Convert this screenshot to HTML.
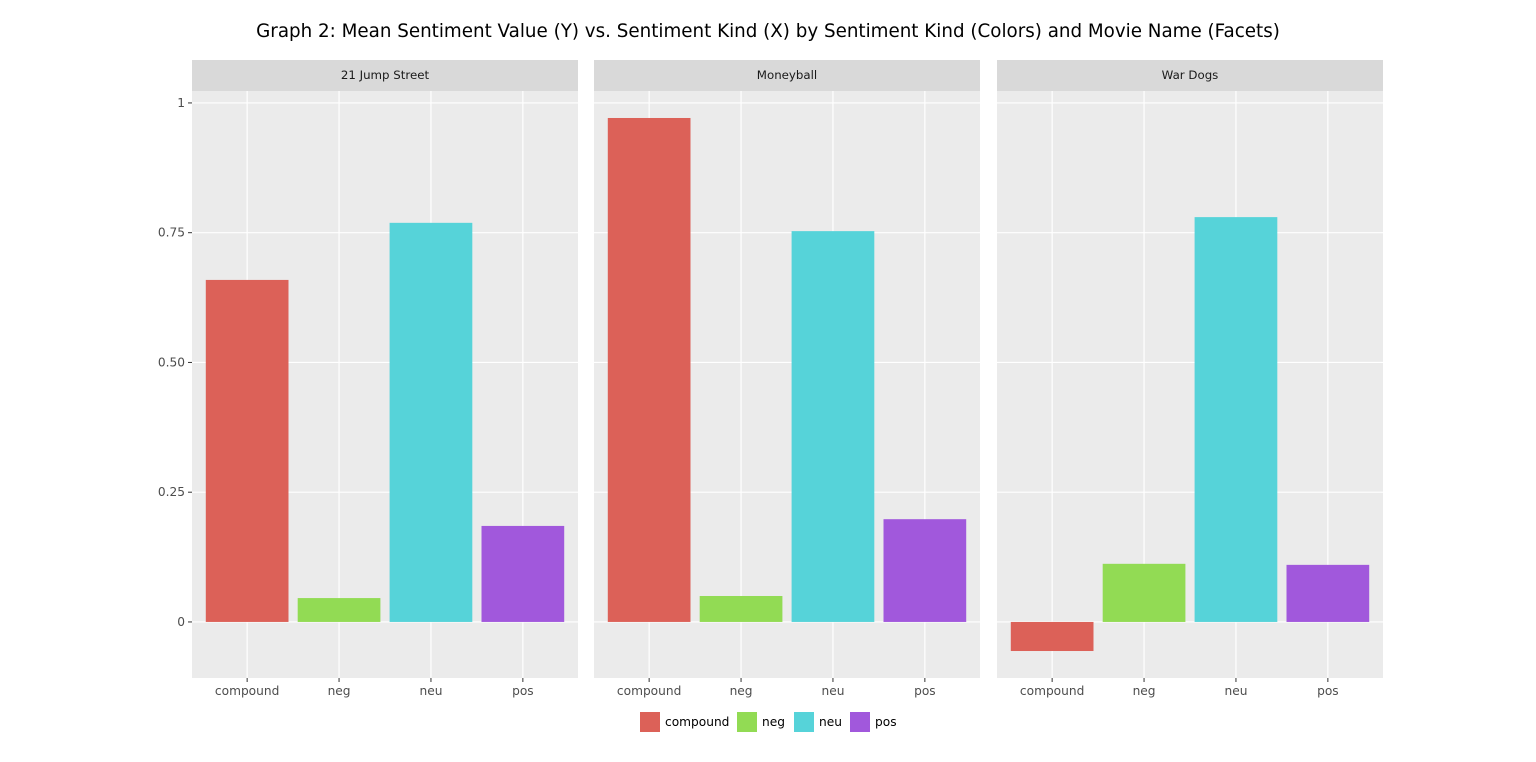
<!DOCTYPE html>
<html><head><meta charset="utf-8"><style>
body{margin:0;background:#fff;}
svg{display:block;font-family:"DejaVu Sans","Liberation Sans",sans-serif;}
</style></head><body>
<svg id="chart" width="1536" height="762"></svg>
<script>
const facets = ["21 Jump Street", "Moneyball", "War Dogs"];
const categories = ["compound", "neg", "neu", "pos"];
const valsJump = [0.659, 0.046, 0.769, 0.185];
const valsMoneyball = [0.971, 0.050, 0.753, 0.198];
const valsWarDogs = [-0.056, 0.112, 0.780, 0.110];
const yTicks = [0, 0.25, 0.5, 0.75, 1];
const yTickLabels = ["0", "0.25", "0.50", "0.75", "1"];
const colors = ["#DC6158", "#92DB54", "#56D3D9", "#A158DC"];

const series = [valsJump, valsMoneyball, valsWarDogs];
const NS = "http://www.w3.org/2000/svg";
const svg = document.getElementById("chart");
function mk(tag, attrs, parent){const e=document.createElementNS(NS,tag);for(const k in attrs)e.setAttribute(k,attrs[k]);(parent||svg).appendChild(e);return e;}

const panelX = [192, 594, 997], panelW = 386;
const plotTop = 91, plotBot = 678, stripTop = 60;
const yMin = -0.108, yMax = 1.023;
function y(v){return plotBot - (v - yMin)/(yMax - yMin)*(plotBot - plotTop);}
function xc(p, i){return panelX[p] + (i + 0.6) * panelW / 4.2;}
const unit = panelW / 4.2;

const title = mk("text",{x:768,y:37,"text-anchor":"middle","font-size":18.3,fill:"#000"});
title.textContent = "Graph 2: Mean Sentiment Value (Y) vs. Sentiment Kind (X) by Sentiment Kind (Colors) and Movie Name (Facets)";



facets.forEach((f, p) => {
  const g = mk("g",{});
  
  
  const bg = mk("rect",{x:panelX[p],y:plotTop,width:panelW,height:plotBot-plotTop,fill:"#EBEBEB"},g);
  
  
  const strip = mk("rect",{x:panelX[p],y:stripTop,width:panelW,height:plotTop-stripTop,fill:"#D9D9D9"},g);
  
  
  const st = mk("text",{x:panelX[p]+panelW/2,y:79,"text-anchor":"middle","font-size":11.8,fill:"#1a1a1a"},g);
  st.textContent = f;
  
  
  yTicks.forEach(v => {
    const gl = mk("line",{x1:panelX[p],x2:panelX[p]+panelW,y1:y(v),y2:y(v),stroke:"#fff","stroke-width":1.2},g);
    
    
  });
  categories.forEach((c, i) => {
    mk("line",{x1:xc(p,i),x2:xc(p,i),y1:plotTop,y2:plotBot,stroke:"#fff","stroke-width":1.2},g);
  });
  categories.forEach((c, i) => {
    const v = series[p][i];
    const top = y(Math.max(v,0)), bot = y(Math.min(v,0));
    const r = mk("rect",{x:xc(p,i)-0.45*unit,y:top,width:0.9*unit,height:bot-top,fill:colors[i]},g);
    
    
    mk("line",{x1:xc(p,i),x2:xc(p,i),y1:plotBot,y2:plotBot+4,stroke:"#333","stroke-width":1},g);
    const t = mk("text",{x:xc(p,i),y:695,"text-anchor":"middle","font-size":12.2,fill:"#4D4D4D"},g);
    t.textContent = c;
    
    
  });
});

yTicks.forEach((v, i) => {
  mk("line",{x1:188,x2:192,y1:y(v),y2:y(v),stroke:"#333","stroke-width":1});
  const t = mk("text",{x:185,y:y(v)+4,"text-anchor":"end","font-size":12.2,fill:"#4D4D4D"});
  t.textContent = yTickLabels[i];
  
  
});

const legX = [640, 737, 794, 850];
categories.forEach((c, i) => {
  const g = mk("g",{});
  
  
  mk("rect",{x:legX[i],y:712,width:20,height:20,fill:colors[i]},g);
  const t = mk("text",{x:legX[i]+25,y:726,"font-size":12.2,fill:"#000"},g);
  t.textContent = c;
});
</script>
</body></html>
